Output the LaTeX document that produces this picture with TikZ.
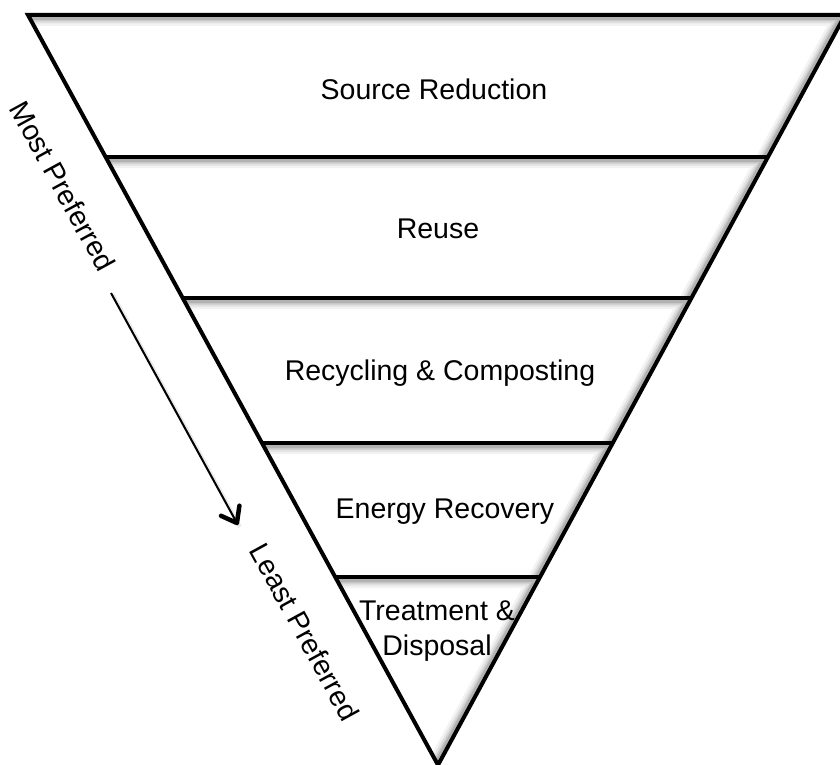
\documentclass[tikz,border=0pt]{standalone}
\usepackage{fontspec}
\setmainfont{Liberation Sans}
\usetikzlibrary{arrows.meta,calc}
\newcommand\bandshadow[4]{%
  \begin{scope}
    \clip (#1) -- (#2) -- (#3) -- (#4) -- cycle;
    \foreach \w/\o in {16/0.05,11/0.07,7/0.09,4/0.12}{
      \draw[line width=\w pt, black, opacity=\o, line cap=round]
        ([yshift=-3pt]#1) -- ([yshift=-3pt]#2)
        ([xshift=-3pt]#2) -- ([xshift=-3pt]#3);
    }
  \end{scope}}
\begin{document}
\begin{tikzpicture}[x=1pt,y=-1pt,
  lbl/.style={font=\fontsize{28.5}{35}\selectfont, inner sep=0pt, align=center},
  rim/.style={line width=4pt, line join=miter},
  divider/.style={line width=4pt},
  prefarrow/.style={line width=2pt, -{Straight Barb[length=14pt,width=21pt,line width=4.5pt,round]}},
  prefshadow/.style={line width=4pt, black, opacity=0.08}]
\useasboundingbox (0,0) rectangle (840,765);
\fill[white] (0,0) rectangle (840,765);
% corners
\coordinate (TL) at (28,15);
\coordinate (TR) at (845,15);
\coordinate (AP) at (438,765);
\coordinate (L1) at (105.6,157); \coordinate (R1) at (767.9,157);
\coordinate (L2) at (182.7,298); \coordinate (R2) at (691.4,298);
\coordinate (L3) at (262.0,443); \coordinate (R3) at (612.7,443);
\coordinate (L4) at (335.2,577); \coordinate (R4) at (540.0,577);
% inner shadows
\bandshadow{TL}{TR}{R1}{L1}
\bandshadow{L1}{R1}{R2}{L2}
\bandshadow{L2}{R2}{R3}{L3}
\bandshadow{L3}{R3}{R4}{L4}
\bandshadow{L4}{R4}{AP}{AP}
% outline and dividers
\draw[rim] (TL) -- (TR) -- (AP) -- cycle;
\draw[divider] (L1) -- (R1);
\draw[divider] (L2) -- (R2);
\draw[divider] (L3) -- (R3);
\draw[divider] (L4) -- (R4);
% labels
\node[lbl, anchor=base] (sr) at (434,100) {Source Reduction};
\node[lbl, anchor=base] (ru) at (438,238) {Reuse};
\node[lbl, anchor=base] (rc) at (440,380) {Recycling \& Composting};
\node[lbl, anchor=base] (er) at (445,518) {Energy Recovery};
\node[lbl, anchor=base] (td1) at (437,620) {Treatment \&};
\node[lbl, anchor=base] (td2) at (437,655) {Disposal};
\node[lbl, rotate=-61.3] (mp) at (63,186) {Most Preferred};
\node[lbl, rotate=-61.3] (lp) at (305,632) {Least Preferred};
% arrow
\coordinate (a0) at (111,293);
\coordinate (a1) at (238,525);
\draw[prefshadow] ([xshift=2pt,yshift=-2pt]a0) -- ([xshift=2pt,yshift=-2pt]a1);
\draw[prefarrow] (a0) -- (a1);
\end{tikzpicture}
\end{document}
